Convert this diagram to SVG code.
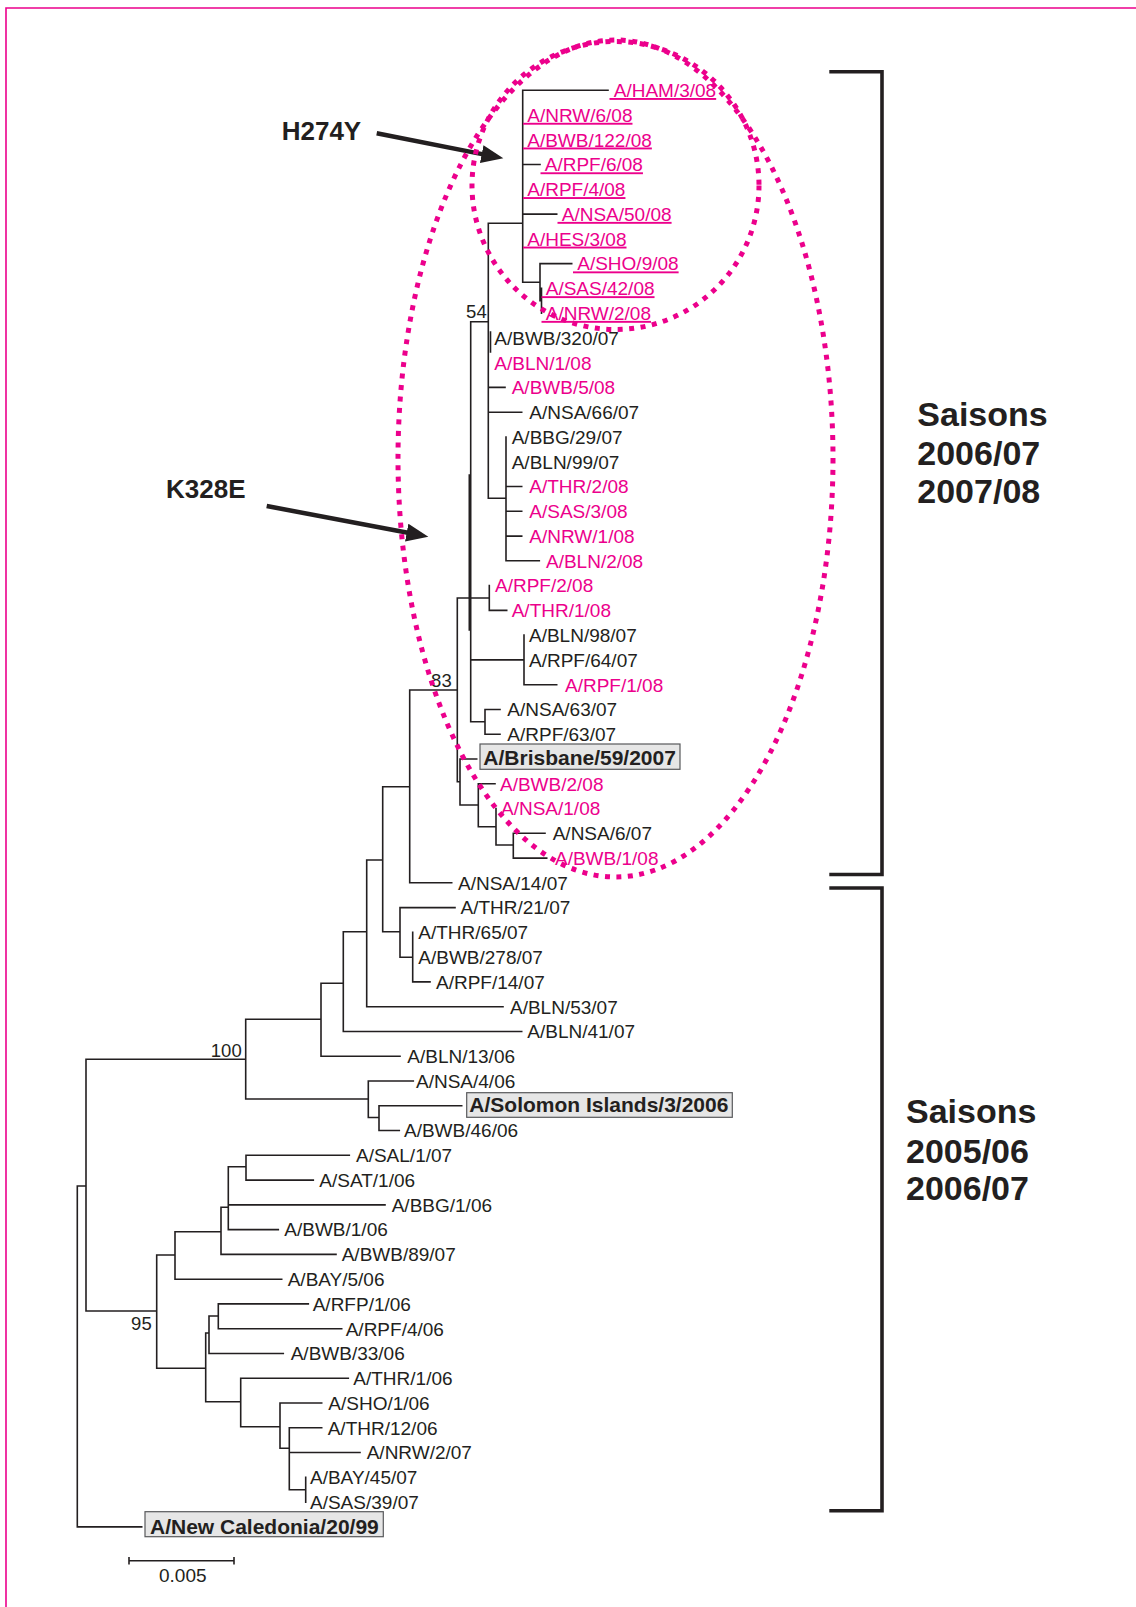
<svg xmlns="http://www.w3.org/2000/svg" width="1136" height="1607" viewBox="0 0 1136 1607">
<style>
.t{font-family:"Liberation Sans",Arial,Helvetica,sans-serif;font-size:19px;fill:#231F20}
.p{fill:#EC008C}
.u{text-decoration:underline;white-space:pre}
.b{font-weight:bold;font-size:21px}
.big{font-family:"Liberation Sans",Arial,Helvetica,sans-serif;font-weight:bold;fill:#231F20}
.sup{font-size:18.5px;text-anchor:end}
.box{fill:#E6E6E6;stroke:#58595B;stroke-width:1.2}
.br{fill:none;stroke:#231F20;stroke-width:1.6;stroke-linecap:square}
.dot{fill:none;stroke:#EC008C;stroke-width:5;stroke-dasharray:5 6.5}
.arr{fill:none;stroke:#231F20;stroke-width:4.5}
.brk{fill:none;stroke:#231F20;stroke-width:3.6}
</style>
<defs>
<marker id="ah" markerUnits="userSpaceOnUse" markerWidth="24" markerHeight="20" refX="12" refY="9" orient="auto">
<path d="M0,0 L22,9 L0,18 z" fill="#231F20"/>
</marker>
</defs>
<rect width="1136" height="1607" fill="#FFFFFF"/>
<path d="M6,1607 V8 H1136" fill="none" stroke="#EC008C" stroke-width="1.6"/>

<g id="connectors">
<path class="br" d="
M522.7,90.2 V282.2 M522.7,90.2 H608 M522.7,164.5 H540 M522.7,214.1 H556.7 M522.7,282.2 H540
M540,263.6 V300.8 M540,263.6 H571.7 M540,300.8 H541.5 M541.5,288.4 V313.1
M488.3,223.3 H522.7
M488.3,223.3 V498.3 M470.7,321.7 H488.3 M490.5,332 V352
M488.3,387.4 H505 M488.3,412.2 H521.7 M488.3,498.3 H506
M506,437 V560.8 M506,486.5 H521.7 M506,511.3 H521.7 M506,536.1 H521.7 M506,560.8 H539.3
M470.7,321.7 V721.8 M469.3,475 V630
M457.3,598 H489.3 M489.3,585.6 V610.4 M489.3,610.4 H506.7
M470.7,659.9 H524 M524,635.1 V684.7 M524,684.7 H556.7
M470.7,721.8 H485 M485,709.5 V734.2 M485,709.5 H500 M485,734.2 H500
M457.3,598 V781.7 M409.7,690 H457.3 M457.3,781.7 H460
M460,759 V805 M460,759 H476.7 M460,805 H478.3
M478.3,783.8 V826.7 M478.3,783.8 H495 M478.3,826.7 H496
M496,808.5 V845 M496,845 H513.3
M513.3,833.3 V858.1 M513.3,833.3 H545 M513.3,858.1 H546.7
M409.7,690 V882.8 M409.7,882.8 H451.7
M382.7,786.7 H409.7 M382.7,786.7 V931.7 M382.7,931.7 H400
M400,907.6 V957.2 M400,907.6 H455 M400,957.2 H412.7
M412.7,932.4 V981.9 M412.7,981.9 H430
M366.7,860 H382.7 M366.7,860 V1006.7 M366.7,1006.7 H503
M343.3,931.7 H366.7 M343.3,931.7 V1031.5 M343.3,1031.5 H521.7
M321,983.3 H343.3 M321,983.3 V1056.2 M321,1056.2 H400
M245.7,1019.3 H321 M245.7,1019.3 V1099 M245.7,1099 H368.3
M368.3,1081 V1117.5 M368.3,1081 H413.3 M368.3,1117.5 H379
M379,1105.8 V1130.5 M379,1105.8 H461.7 M379,1130.5 H399.3
M86,1059.3 H245.7 M86,1059.3 V1311
M77.3,1186 H86 M77.3,1186 V1526.9 M77.3,1526.9 H141.7
M86,1311 H156.7 M156.7,1255 V1368.3
M156.7,1255 H175 M175,1231.7 V1279.2 M175,1279.2 H281.7
M175,1231.7 H221 M221,1207.3 V1254.4 M221,1254.4 H336
M221,1207.3 H228.3 M228.3,1166.7 V1229.6 M228.3,1204.9 H385 M228.3,1229.6 H278.3
M228.3,1166.7 H246 M246,1155.3 V1180.1 M246,1155.3 H349.3 M246,1180.1 H313.3
M156.7,1368.3 H205.7 M205.7,1333 V1401.7 M205.7,1333 H209
M209,1316 V1353.5 M209,1316 H218.3 M218.3,1303.9 V1328.7 M218.3,1303.9 H308.3 M218.3,1328.7 H341.7
M209,1353.5 H283.3
M205.7,1401.7 H240.7 M240.7,1378.2 V1426.7 M240.7,1378.2 H348.3 M240.7,1426.7 H280
M280,1403 V1448.3 M280,1403 H321.7 M280,1448.3 H289.3
M289.3,1427.8 V1489.7 M289.3,1427.8 H321.7 M289.3,1452.5 H360 M289.3,1489.7 H305.7
M305.7,1477.3 V1502.1"/>
<path class="arr" d="M376.7,133.3 L493.5,156.4" marker-end="url(#ah)"/>
<path class="arr" d="M266.7,506 L418.5,534.8" marker-end="url(#ah)"/>
</g>

<g id="supports" class="t">
<text class="t sup" x="486.7" y="318">54</text>
<text class="t sup" x="451.7" y="687">83</text>
<text class="t sup" x="241.7" y="1056.5">100</text>
<text class="t sup" x="151.7" y="1330">95</text>
</g>

<g id="leaf-HAM-3-08"><text class="t p u" xml:space="preserve" x="609.5" y="97"> A/HAM/3/08</text></g>
<g id="leaf-NRW-6-08"><text class="t p u" xml:space="preserve" x="523" y="121.8"> A/NRW/6/08</text></g>
<g id="leaf-BWB-122-08"><text class="t p u" xml:space="preserve" x="523" y="146.5"> A/BWB/122/08</text></g>
<g id="leaf-RPF-6-08"><text class="t p u" xml:space="preserve" x="540.5" y="171.3"> A/RPF/6/08</text></g>
<g id="leaf-RPF-4-08"><text class="t p u" xml:space="preserve" x="523" y="196.1"> A/RPF/4/08</text></g>
<g id="leaf-NSA-50-08"><text class="t p u" xml:space="preserve" x="557.5" y="220.9"> A/NSA/50/08</text></g>
<g id="leaf-HES-3-08"><text class="t p u" xml:space="preserve" x="523" y="245.6"> A/HES/3/08</text></g>
<g id="leaf-SHO-9-08"><text class="t p u" xml:space="preserve" x="573" y="270.4"> A/SHO/9/08</text></g>
<g id="leaf-SAS-42-08"><text class="t p u" xml:space="preserve" x="541.5" y="295.2"> A/SAS/42/08</text></g>
<g id="leaf-NRW-2-08"><text class="t p u" xml:space="preserve" x="541.5" y="319.9"> A/NRW/2/08</text></g>

<g id="leaf-BWB-320-07"><text class="t" x="494.3" y="344.7">A/BWB/320/07</text></g>
<g id="leaf-BLN-1-08"><text class="t p" x="494.3" y="369.5">A/BLN/1/08</text></g>
<g id="leaf-BWB-5-08"><text class="t p" x="511.7" y="394.2">A/BWB/5/08</text></g>
<g id="leaf-NSA-66-07"><text class="t" x="529.3" y="419">A/NSA/66/07</text></g>
<g id="leaf-BBG-29-07"><text class="t" x="511.7" y="443.8">A/BBG/29/07</text></g>
<g id="leaf-BLN-99-07"><text class="t" x="511.7" y="468.6">A/BLN/99/07</text></g>
<g id="leaf-THR-2-08"><text class="t p" x="529.3" y="493.3">A/THR/2/08</text></g>
<g id="leaf-SAS-3-08"><text class="t p" x="529.3" y="518.1">A/SAS/3/08</text></g>
<g id="leaf-NRW-1-08"><text class="t p" x="529.3" y="542.9">A/NRW/1/08</text></g>
<g id="leaf-BLN-2-08"><text class="t p" x="546" y="567.6">A/BLN/2/08</text></g>
<g id="leaf-RPF-2-08"><text class="t p" x="495" y="592.4">A/RPF/2/08</text></g>
<g id="leaf-THR-1-08"><text class="t p" x="511.7" y="617.2">A/THR/1/08</text></g>
<g id="leaf-BLN-98-07"><text class="t" x="529" y="641.9">A/BLN/98/07</text></g>
<g id="leaf-RPF-64-07"><text class="t" x="529" y="666.7">A/RPF/64/07</text></g>
<g id="leaf-RPF-1-08"><text class="t p" x="565" y="691.5">A/RPF/1/08</text></g>
<g id="leaf-NSA-63-07"><text class="t" x="507.3" y="716.3">A/NSA/63/07</text></g>
<g id="leaf-RPF-63-07"><text class="t" x="507.3" y="741">A/RPF/63/07</text></g>
<g id="leaf-Brisbane-59-2007"><rect class="box" x="480" y="744" width="200" height="25.3"/><text class="t b" x="483.3" y="765">A/Brisbane/59/2007</text></g>
<g id="leaf-BWB-2-08"><text class="t p" x="500" y="790.6">A/BWB/2/08</text></g>
<g id="leaf-NSA-1-08"><text class="t p" x="501" y="815.3">A/NSA/1/08</text></g>
<g id="leaf-NSA-6-07"><text class="t" x="552.7" y="840.1">A/NSA/6/07</text></g>
<g id="leaf-BWB-1-08"><text class="t p" x="555" y="864.9">A/BWB/1/08</text></g>
<g id="leaf-NSA-14-07"><text class="t" x="458" y="889.6">A/NSA/14/07</text></g>
<g id="leaf-THR-21-07"><text class="t" x="460.5" y="914.4">A/THR/21/07</text></g>
<g id="leaf-THR-65-07"><text class="t" x="418.3" y="939.2">A/THR/65/07</text></g>
<g id="leaf-BWB-278-07"><text class="t" x="418.3" y="964">A/BWB/278/07</text></g>
<g id="leaf-RPF-14-07"><text class="t" x="436" y="988.7">A/RPF/14/07</text></g>
<g id="leaf-BLN-53-07"><text class="t" x="510" y="1013.5">A/BLN/53/07</text></g>
<g id="leaf-BLN-41-07"><text class="t" x="527.3" y="1038.3">A/BLN/41/07</text></g>
<g id="leaf-BLN-13-06"><text class="t" x="407.3" y="1063">A/BLN/13/06</text></g>
<g id="leaf-NSA-4-06"><text class="t" x="416" y="1087.8">A/NSA/4/06</text></g>
<g id="leaf-Solomon-Islands-3-2006"><rect class="box" x="466.7" y="1092.7" width="265.6" height="24.6"/><text class="t b" x="469.3" y="1112">A/Solomon Islands/3/2006</text></g>
<g id="leaf-BWB-46-06"><text class="t" x="404" y="1137.3">A/BWB/46/06</text></g>
<g id="leaf-SAL-1-07"><text class="t" x="356" y="1162.1">A/SAL/1/07</text></g>
<g id="leaf-SAT-1-06"><text class="t" x="319.3" y="1186.9">A/SAT/1/06</text></g>
<g id="leaf-BBG-1-06"><text class="t" x="391.7" y="1211.7">A/BBG/1/06</text></g>
<g id="leaf-BWB-1-06"><text class="t" x="284.3" y="1236.4">A/BWB/1/06</text></g>
<g id="leaf-BWB-89-07"><text class="t" x="341.7" y="1261.2">A/BWB/89/07</text></g>
<g id="leaf-BAY-5-06"><text class="t" x="287.7" y="1286">A/BAY/5/06</text></g>
<g id="leaf-RFP-1-06"><text class="t" x="312.7" y="1310.7">A/RFP/1/06</text></g>
<g id="leaf-RPF-4-06"><text class="t" x="345.7" y="1335.5">A/RPF/4/06</text></g>
<g id="leaf-BWB-33-06"><text class="t" x="290.7" y="1360.3">A/BWB/33/06</text></g>
<g id="leaf-THR-1-06"><text class="t" x="353.3" y="1385">A/THR/1/06</text></g>
<g id="leaf-SHO-1-06"><text class="t" x="328.3" y="1409.8">A/SHO/1/06</text></g>
<g id="leaf-THR-12-06"><text class="t" x="327.7" y="1434.6">A/THR/12/06</text></g>
<g id="leaf-NRW-2-07"><text class="t" x="366.7" y="1459.3">A/NRW/2/07</text></g>
<g id="leaf-BAY-45-07"><text class="t" x="310" y="1484.1">A/BAY/45/07</text></g>
<g id="leaf-SAS-39-07"><text class="t" x="310" y="1508.9">A/SAS/39/07</text></g>
<g id="leaf-New-Caledonia-20-99"><rect class="box" x="145" y="1511.7" width="238.3" height="25"/><text class="t b" x="150" y="1533.5">A/New Caledonia/20/99</text></g>

<g id="scale-bar">
<path d="M129,1560.7 H234 M129,1557 V1564.5 M234,1557 V1564.5" fill="none" stroke="#231F20" stroke-width="1.6"/>
<text class="t" x="159" y="1581.5">0.005</text>
</g>

<g id="label-H274Y"><text class="big" x="281.7" y="140" font-size="26">H274Y</text></g>
<g id="label-K328E"><text class="big" x="166" y="498" font-size="26">K328E</text></g>

<g id="highlight-ellipses">
<ellipse class="dot" cx="615.5" cy="458.5" rx="217.5" ry="418.5"/>
<ellipse class="dot" cx="615.5" cy="185.5" rx="143.5" ry="144"/>
</g>

<g id="bracket-2007-08">
<path class="brk" d="M829.3,71.7 H882 V874.5 H829.3"/>
<text class="big" font-size="34" x="917.3" y="426">Saisons</text>
<text class="big" font-size="34" x="917.3" y="465">2006/07</text>
<text class="big" font-size="34" x="917.3" y="503.3">2007/08</text>
</g>
<g id="bracket-2005-07">
<path class="brk" d="M829.3,888 H882 V1510.7 H829.3"/>
<text class="big" font-size="34" x="906" y="1123">Saisons</text>
<text class="big" font-size="34" x="906" y="1162.5">2005/06</text>
<text class="big" font-size="34" x="906" y="1200.4">2006/07</text>
</g>
</svg>
